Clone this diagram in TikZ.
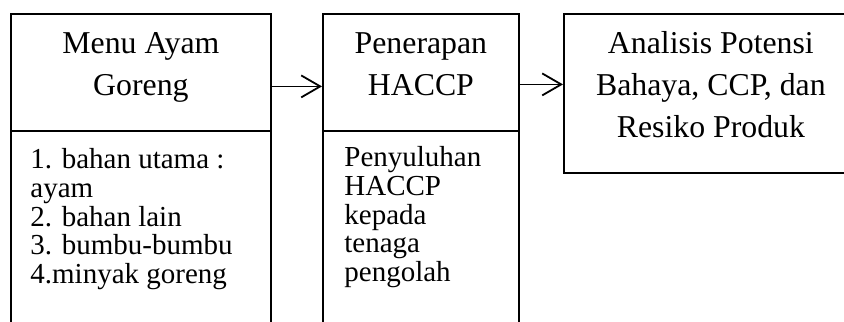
\documentclass[tikz,border=0pt]{standalone}
\usepackage{fontspec}
\setmainfont{Liberation Serif}
\usetikzlibrary{positioning, calc, arrows.meta}

\begin{document}
\begin{tikzpicture}[
            x=0.5pt, y=-0.5pt,
            box/.style={rectangle, draw, line width=0.9pt, anchor=north west, inner sep=0pt},
            head/.style={inner sep=0pt, align=center, font=\fontsize{15.9pt}{21pt}\selectfont},
            isi/.style={inner sep=0pt, align=left, font=\fontsize{14.5pt}{14.4pt}\selectfont},
            arr/.style={-{Straight Barb[length=9.5pt, width=11pt, line width=0.9pt]}, line width=0.9pt}
        ]
            \clip (0,0) rectangle (844,321);

            % --- kotak ---
            \node[box, minimum width=130pt, minimum height=58.5pt] (menu) at (10,13) {};
            \node[box, minimum width=130pt, minimum height=110pt] (menuisi) at (10,130) {};
            \node[box, minimum width=98pt, minimum height=58.5pt] (hac) at (322,13) {};
            \node[box, minimum width=98pt, minimum height=110pt] (hacisi) at (322,130) {};
            \node[box, minimum width=147pt, minimum height=79.5pt] (analisis) at (563,13) {};

            % --- teks ---
            \node[head, below=9.5pt of menu.north] (menutxt) {Menu Ayam\\Goreng};
            \node[head, below=9.5pt of hac.north] (hactxt) {Penerapan\\HACCP};
            \node[head, below=9pt of analisis.north] (analisistxt) {Analisis Potensi\\Bahaya, CCP, dan\\Resiko Produk};
            \node[isi, below right=9pt and 10pt of menuisi.north west] (bahan)
              {1. bahan utama :\\ayam\\2. bahan lain\\3. bumbu-bumbu\\4.minyak goreng};
            \node[isi, below right=8pt and 11pt of hacisi.north west] (penyuluhan)
              {Penyuluhan\\HACCP\\kepada\\tenaga\\pengolah};

            % --- panah ---
            \draw[arr] ([yshift=-7pt]menu.east) -- ([yshift=-7pt]menu.east -| hac.west);
            \draw[arr] ([yshift=-6pt]hac.east) -- ([yshift=-6pt]hac.east -| analisis.west);

        \end{tikzpicture}
\end{document}
